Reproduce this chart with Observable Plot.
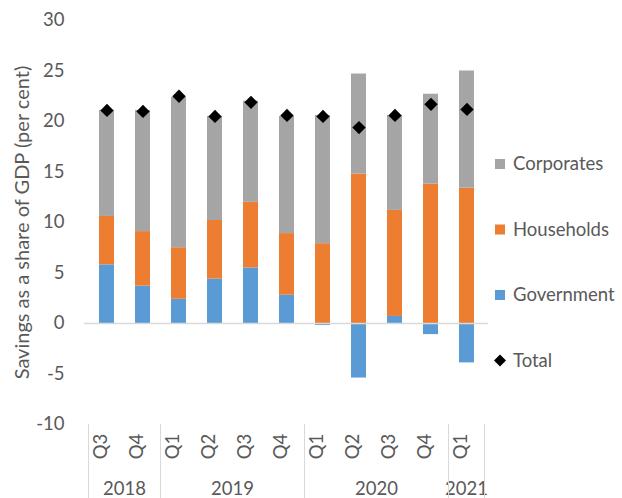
<!DOCTYPE html>
<html><head><meta charset="utf-8">
<script src="https://cdn.jsdelivr.net/npm/d3@7"></script>
<script src="https://cdn.jsdelivr.net/npm/@observablehq/plot@0.6"></script>
<style>body{margin:0;background:#fff;}</style>
</head><body><div id="chart"></div>
<script>
const quarters = ["Q3","Q4","Q1","Q2","Q3","Q4","Q1","Q2","Q3","Q4","Q1"];
const years = ["2018","2018","2019","2019","2019","2019","2020","2020","2020","2020","2021"];
const government = [5.8, 3.7, 2.4, 4.4, 5.5, 2.8, -0.2, -5.4, 0.7, -1.1, -3.9];
const households = [4.8, 5.4, 5.1, 5.8, 6.5, 6.1, 7.9, 14.8, 10.5, 13.8, 13.4];
const corporates = [10.5, 12.0, 14.9, 10.3, 10.0, 11.6, 12.7, 9.9, 9.4, 8.9, 11.6];
const total = [21.1, 21.0, 22.5, 20.5, 21.9, 20.6, 20.5, 19.4, 20.6, 21.7, 21.2];
const seriesNames = ["Government", "Households", "Corporates"];
const seriesColors = ["#5B9BD5", "#ED7D31", "#A5A5A5"];
const legendOrder = ["Corporates", "Households", "Government", "Total"];
const yTicks = [-10, -5, 0, 5, 10, 15, 20, 25, 30];
const yLabel = "Savings as a share of GDP (per cent)";

const keys = quarters.map((q, i) => years[i] + " " + q);
const stacked = [];
[government, households, corporates].forEach((arr, s) =>
  arr.forEach((v, i) => stacked.push({key: keys[i], series: seriesNames[s], value: v})));
const totals = total.map((v, i) => ({key: keys[i], value: v}));
const quarterRows = quarters.map((q, i) => ({key: keys[i], q}));

const font = "Lato, 'Open Sans', sans-serif";
const textColor = "#595959";
const fs = 18.5;

function bw(x) { return typeof x.bandwidth === "function" ? x.bandwidth() : (x.bandwidth || 0); }

function yearAxis(index, scales, values, dims) {
  const x = scales.x;
  const b = bw(x);
  const centers = keys.map(k => x(k) + b / 2);
  const step = centers[1] - centers[0];
  const yTop = dims.height - dims.marginBottom;
  const g = d3.create("svg:g");
  const groups = d3.groups(keys.map((k, i) => ({i, year: years[i]})), d => d.year);
  const bounds = [];
  groups.forEach(([yr, items]) => {
    const l = centers[items[0].i] - step / 2;
    const r = centers[items[items.length - 1].i] + step / 2;
    g.append("text").attr("x", (l + r) / 2).attr("y", yTop + 71)
      .attr("text-anchor", "middle").attr("font-family", font).attr("font-size", fs)
      .attr("fill", textColor).text(yr);
    bounds.push(l);
  });
  bounds.push(centers[centers.length - 1] + step / 2);
  bounds.forEach(bx => {
    g.append("line").attr("x1", bx).attr("x2", bx).attr("y1", yTop).attr("y2", dims.height)
      .attr("stroke", "#d9d9d9").attr("stroke-width", 1);
  });
  return g.node();
}

function legend(index, scales, values, dims) {
  const g = d3.create("svg:g").attr("font-family", font).attr("font-size", fs).attr("fill", textColor);
  const x0 = 500, y0 = 164, gap = 65.5;
  legendOrder.forEach((name, i) => {
    const cy = y0 + i * gap;
    const si = seriesNames.indexOf(name);
    if (si >= 0) {
      g.append("rect").attr("x", x0 - 5).attr("y", cy - 5).attr("width", 10).attr("height", 10)
        .attr("fill", seriesColors[si]);
    } else {
      g.append("path").attr("d", `M${x0},${cy - 6}L${x0 + 6},${cy}L${x0},${cy + 6}L${x0 - 6},${cy}Z`)
        .attr("fill", "#000");
    }
    g.append("text").attr("x", x0 + 13).attr("y", cy).attr("dy", "0.35em")
      .attr("text-anchor", "start").text(name);
  });
  return g.node();
}

const chart = Plot.plot({
  width: 622,
  height: 498,
  marginLeft: 84,
  marginRight: 134,
  marginTop: 20,
  marginBottom: 74,
  style: {fontFamily: font, fontSize: fs + "px", color: textColor, background: "#fff"},
  x: {domain: keys, paddingInner: 0.59, paddingOuter: 0.295, axis: null},
  y: {domain: [-10, 30], ticks: yTicks, tickSize: 0, tickPadding: 20, label: null, tickFormat: d => String(d)},
  color: {domain: seriesNames, range: seriesColors},
  marks: [
    Plot.barY(stacked, {x: "key", y: "value", fill: "series", order: seriesNames}),
    Plot.ruleY([0], {stroke: "#d9d9d9", strokeWidth: 1.5}),
    Plot.dot(totals, {x: "key", y: "value", symbol: "diamond2", r: 6, fill: "#000"}),
    Plot.text(quarterRows, {x: "key", text: "q", frameAnchor: "bottom", rotate: -90, dy: 22, fill: textColor, fontSize: fs}),
    Plot.text([yLabel], {frameAnchor: "left", textAnchor: "middle", rotate: -90, dx: -62, dy: 0, fill: textColor, fontSize: 20}),
    yearAxis,
    legend
  ]
});
document.getElementById("chart").appendChild(chart);
</script>
</body></html>
